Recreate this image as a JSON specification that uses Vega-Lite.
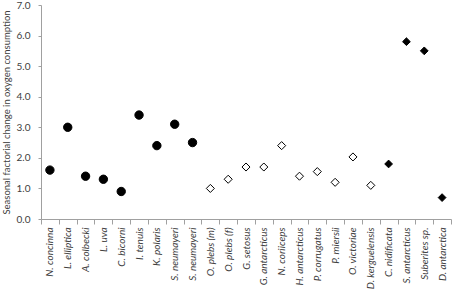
{
  "$schema": "https://vega.github.io/schema/vega-lite/v6.json",
  "autosize": {"type": "none"},
  "padding": {"left": 41, "top": 5, "right": 3, "bottom": 75},
  "width": 410,
  "height": 214,
  "background": "white",
  "config": {"view": {"stroke": null}, "font": "Lato"},
  "data": {"values": [
    {"species": "N. concinna", "value": 1.6, "group": "A"},
    {"species": "L. elliptica", "value": 3.0, "group": "A"},
    {"species": "A. colbecki", "value": 1.4, "group": "A"},
    {"species": "L. uva", "value": 1.3, "group": "A"},
    {"species": "C. bicorni", "value": 0.9, "group": "A"},
    {"species": "I. tenuis", "value": 3.4, "group": "A"},
    {"species": "K. polaris", "value": 2.4, "group": "A"},
    {"species": "S. neumayeri", "value": 3.1, "group": "A"},
    {"species": "S. neumayeri ", "value": 2.5, "group": "A"},
    {"species": "O. plebs (m)", "value": 1.0, "group": "B"},
    {"species": "O. plebs (f)", "value": 1.3, "group": "B"},
    {"species": "G. setosus", "value": 1.7, "group": "B"},
    {"species": "G. antarcticus", "value": 1.7, "group": "B"},
    {"species": "N. coriiceps", "value": 2.4, "group": "B"},
    {"species": "H. antarcticus", "value": 1.4, "group": "B"},
    {"species": "P. corrugatus", "value": 1.55, "group": "B"},
    {"species": "P. miersii", "value": 1.2, "group": "B"},
    {"species": "O. victoriae", "value": 2.03, "group": "B"},
    {"species": "D. kerguelensis", "value": 1.1, "group": "B"},
    {"species": "C. nidificata", "value": 1.8, "group": "C"},
    {"species": "S. antarcticus", "value": 5.8, "group": "C"},
    {"species": "Suberites sp.", "value": 5.5, "group": "C"},
    {"species": "D. antarctica", "value": 0.7, "group": "C"}
  ]},
  "mark": {"type": "point", "strokeWidth": 1, "opacity": 1},
  "encoding": {
    "x": {
      "field": "species", "type": "nominal", "sort": null,
      "scale": {"paddingInner": 0, "paddingOuter": 0},
      "axis": {
        "title": null, "labelAngle": -90, "labelFontStyle": "italic",
        "labelFontSize": 10, "labelColor": "#404040", "labelPadding": 3,
        "domainColor": "#a0a0a0", "tickColor": "#a0a0a0", "tickSize": 5,
        "tickBand": "extent", "grid": false
      }
    },
    "y": {
      "field": "value", "type": "quantitative",
      "scale": {"domain": [0, 7], "nice": false},
      "axis": {
        "title": "Seasonal factorial change in oxygen consumption",
        "titleFontSize": 9.5, "titleFontWeight": "normal", "titleColor": "#404040",
        "titlePadding": 5,
        "values": [0, 1, 2, 3, 4, 5, 6, 7], "format": ".1f",
        "labelFontSize": 10, "labelColor": "#404040", "labelPadding": 8,
        "domainColor": "#a0a0a0", "tickColor": "#a0a0a0", "tickSize": 3,
        "grid": false
      }
    },
    "shape": {
      "field": "group", "type": "nominal", "legend": null,
      "scale": {"domain": ["A", "B", "C"], "range": ["circle", "diamond", "diamond"]}
    },
    "fill": {
      "field": "group", "type": "nominal", "legend": null,
      "scale": {"domain": ["A", "B", "C"], "range": ["black", "white", "black"]}
    },
    "stroke": {"value": "black"},
    "size": {
      "field": "group", "type": "nominal", "legend": null,
      "scale": {"domain": ["A", "B", "C"], "range": [70, 60, 64]}
    }
  }
}
